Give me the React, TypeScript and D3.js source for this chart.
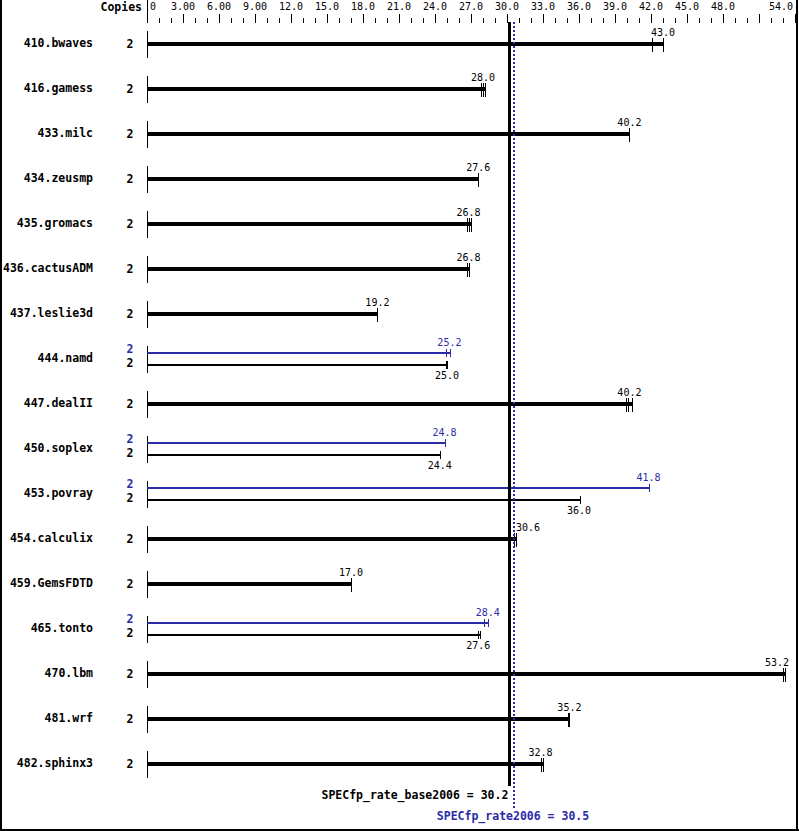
import React from 'react';
import * as d3 from 'd3';

const benchmarks = ['410.bwaves', '416.gamess', '433.milc', '434.zeusmp', '435.gromacs', '436.cactusADM', '437.leslie3d', '444.namd', '447.dealII', '450.soplex', '453.povray', '454.calculix', '459.GemsFDTD', '465.tonto', '470.lbm', '481.wrf', '482.sphinx3'];
const baseCopies = [2, 2, 2, 2, 2, 2, 2, 2, 2, 2, 2, 2, 2, 2, 2, 2, 2];
const baseValues = [43.0, 28.0, 40.2, 27.6, 26.8, 26.8, 19.2, 25.0, 40.2, 24.4, 36.0, 30.6, 17.0, 27.6, 53.2, 35.2, 32.8];
const baseRuns = [[42.1, 43.0], [27.8, 28.0, 28.2], [40.2], [27.6], [26.7, 26.85, 27.0], [26.7, 26.8], [19.2], [24.9, 25.0], [39.9, 40.1, 40.45], [24.4], [36.05], [30.6, 30.75], [17.0], [27.6, 27.75], [53.0, 53.2], [35.05, 35.2], [32.8, 33.0]];
const peakCopies = [null, null, null, null, null, null, null, 2, null, 2, 2, null, null, 2, null, null, null];
const peakValues = [null, null, null, null, null, null, null, 25.2, null, 24.8, 41.8, null, null, 28.4, null, null, null];
const peakRuns = [null, null, null, null, null, null, null, [24.9, 25.25], null, [24.8], [41.8], null, null, [28.1, 28.4], null, null, null];
const axisMax = 54;
const tickLabels = ['0', '3.00', '6.00', '9.00', '12.0', '15.0', '18.0', '21.0', '24.0', '27.0', '30.0', '33.0', '36.0', '39.0', '42.0', '45.0', '48.0', '', '54.0'];
const baseMean = 30.2;
const peakMean = 30.5;
const baseMeanLabel = 'SPECfp_rate_base2006 = 30.2';
const peakMeanLabel = 'SPECfp_rate2006 = 30.5';

const BLUE = '#2b2ba8';
const MONO = '"DejaVu Sans Mono", "Liberation Mono", monospace';

export default function App() {
  const W = 799, H = 831;
  const x = d3.scaleLinear().domain([0, axisMax]).range([147, 795]);
  const rowY = (i: number) => 44 + 45 * i;
  const ticks = d3.range(0, axisMax + 1, 1);
  const lo = x(baseMean) - 2;
  const hi = x(peakMean) + 2;
  const charW = 6.02;

  const valueLabel = (v: number, y: number, color: string, key: string) => {
    const txt = v.toFixed(1);
    const w = txt.length * charW;
    const cx = x(v);
    let left = cx - w / 2;
    if (left < hi && left + w > lo) left = hi + 1;
    if (left + w > 789) left = 789 - w;
    return (
      <text key={key} x={left} y={y} fontFamily={MONO} fontSize={10} fill={color}>{txt}</text>
    );
  };

  return (
    <div style={{ position: 'absolute', left: 0, top: 0 }}>
      <svg width={W} height={H} style={{ display: 'block', background: '#fff' }}>
        <rect x={0} y={0} width={W} height={H} fill="#fff" />
        {/* border */}
        <g shapeRendering="crispEdges" stroke="#000">
          <line x1={1} y1={0} x2={1} y2={H} strokeWidth={2} />
          <line x1={797} y1={0} x2={797} y2={H} strokeWidth={2} />
          <line x1={0} y1={830} x2={W} y2={830} strokeWidth={2} />
        </g>
        {/* axis */}
        <text x={142} y={11} textAnchor="end" fontFamily={MONO} fontWeight="bold" fontSize={11.5}>Copies</text>
        <g shapeRendering="crispEdges" stroke="#000" strokeWidth={1}>
          <line x1={x(0)} y1={0} x2={x(0)} y2={23} />
          {ticks.map((t) => (
            <line key={'t' + t} x1={Math.round(x(t)) + 0.5} x2={Math.round(x(t)) + 0.5} y1={t % 3 === 0 ? 14 : 18} y2={23} />
          ))}
        </g>
        {tickLabels.map((lab, k) => {
          if (!lab) return null;
          const v = k * 3;
          const first = k === 0;
          const last = v === axisMax;
          return (
            <text key={'l' + k} x={first ? x(v) + 3 : last ? x(v) - 2 : x(v)} y={10}
              textAnchor={first ? 'start' : last ? 'end' : 'middle'} fontFamily={MONO} fontSize={10}>{lab}</text>
          );
        })}
        {/* rows */}
        {benchmarks.map((b, i) => {
          const cy = rowY(i);
          const hasPeak = peakValues[i] != null;
          const els: any[] = [];
          els.push(<text key="n" x={93} y={cy + 3} textAnchor="end" fontFamily={MONO} fontWeight="bold" fontSize={11.5}>{b}</text>);
          els.push(<line key="v" x1={x(0)} x2={x(0)} y1={cy - 13.5} y2={cy + 13.5} stroke="#000" shapeRendering="crispEdges" />);
          if (!hasPeak) {
            const runs = baseRuns[i];
            const end = d3.max(runs) as number;
            els.push(<text key="c" x={130} y={cy + 4} textAnchor="middle" fontFamily={MONO} fontWeight="bold" fontSize={11.5}>{baseCopies[i]}</text>);
            els.push(<rect key="b" x={x(0)} y={cy - 2} width={x(end) - x(0)} height={4} fill="#000" shapeRendering="crispEdges" />);
            runs.forEach((r, k) => els.push(
              <line key={'r' + k} x1={Math.round(x(r)) + 0.5} x2={Math.round(x(r)) + 0.5} y1={cy - 6} y2={cy + 8} stroke="#000" shapeRendering="crispEdges" />
            ));
            els.push(valueLabel(baseValues[i], cy - 8, '#000', 'lab'));
          } else {
            const pr = peakRuns[i] as number[];
            const br = baseRuns[i];
            const py = cy - 6, by = cy + 6;
            const pend = d3.max(pr) as number;
            const bend = d3.max(br) as number;
            els.push(<text key="pc" x={130} y={cy - 6} textAnchor="middle" fontFamily={MONO} fontWeight="bold" fontSize={11.5} fill={BLUE}>{peakCopies[i]}</text>);
            els.push(<text key="bc" x={130} y={cy + 8} textAnchor="middle" fontFamily={MONO} fontWeight="bold" fontSize={11.5}>{baseCopies[i]}</text>);
            els.push(<rect key="pb" x={x(0)} y={py - 1} width={x(pend) - x(0)} height={2} fill={BLUE} shapeRendering="crispEdges" />);
            els.push(<rect key="bb" x={x(0)} y={by - 1} width={x(bend) - x(0)} height={2} fill="#000" shapeRendering="crispEdges" />);
            pr.forEach((r, k) => els.push(
              <line key={'pr' + k} x1={Math.round(x(r)) + 0.5} x2={Math.round(x(r)) + 0.5} y1={py - 4} y2={py + 4} stroke={BLUE} shapeRendering="crispEdges" />
            ));
            br.forEach((r, k) => els.push(
              <line key={'br' + k} x1={Math.round(x(r)) + 0.5} x2={Math.round(x(r)) + 0.5} y1={by - 4} y2={by + 4} stroke="#000" shapeRendering="crispEdges" />
            ));
            els.push(valueLabel(peakValues[i] as number, cy - 13, BLUE, 'plab'));
            els.push(valueLabel(baseValues[i], cy + 20, '#000', 'blab'));
          }
          return <g key={b}>{els}</g>;
        })}
        {/* mean lines */}
        <line x1={x(baseMean)} x2={x(baseMean)} y1={22} y2={786} stroke="#000" strokeWidth={3} shapeRendering="crispEdges" />
        <line x1={x(peakMean) + 1} x2={x(peakMean) + 1} y1={22} y2={808} stroke={BLUE} strokeWidth={2} strokeDasharray="2,2" shapeRendering="crispEdges" />
        <text x={x(baseMean) - 1} y={799} textAnchor="end" fontFamily={MONO} fontWeight="bold" fontSize={11.5}>{baseMeanLabel}</text>
        <text x={x(peakMean)} y={820} textAnchor="middle" fontFamily={MONO} fontWeight="bold" fontSize={11.5} fill={BLUE}>{peakMeanLabel}</text>
      </svg>
    </div>
  );
}
